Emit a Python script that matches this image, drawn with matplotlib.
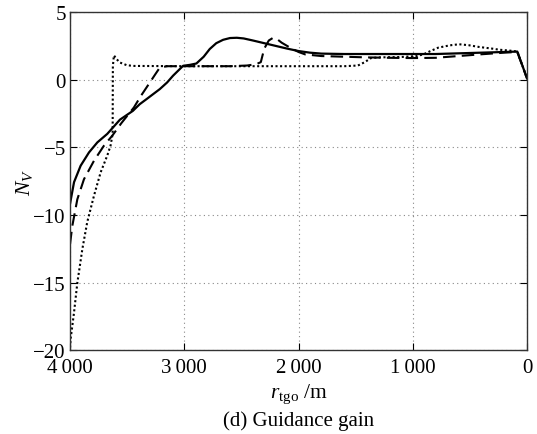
import matplotlib
matplotlib.use("Agg")
import matplotlib.pyplot as plt

plt.rcParams['font.family'] = ['Liberation Serif', 'DejaVu Serif']
plt.rcParams['mathtext.fontset'] = 'custom'
plt.rcParams['mathtext.rm'] = 'Liberation Serif'
plt.rcParams['mathtext.it'] = 'Liberation Serif:italic'
plt.rcParams['axes.unicode_minus'] = True

# ---- data ----
solid_x = [4000, 3965, 3907, 3834, 3761, 3674, 3563, 3450, 3389, 3330, 3214, 3150, 3098, 3010,
           2950, 2894, 2830, 2777, 2720, 2660, 2600, 2540, 2480, 2400, 2300, 2200, 2100, 2000,
           1900, 1800, 1600, 1400, 1200, 1000, 800, 600, 400, 200, 85, 0]
solid_y = [-9.17, -7.57, -6.35, -5.37, -4.63, -4.0, -2.95, -2.3, -1.8, -1.43, -0.69, -0.2, 0.3, 1.03,
           1.1, 1.2, 1.7, 2.27, 2.7, 2.95, 3.08, 3.1, 3.05, 2.9, 2.7, 2.5, 2.3, 2.12,
           2.0, 1.93, 1.9, 1.9, 1.9, 1.9, 1.9, 1.95, 2.0, 2.05, 2.08, 0.1]

dashed_x = [4000, 3980, 3936, 3878, 3790, 3703, 3630, 3550, 3441, 3380, 3301, 3250, 3214, 3150,
            3000, 2800, 2600, 2450, 2370, 2330, 2300, 2260, 2222, 2180, 2148, 2074, 2000, 1941,
            1800, 1600, 1400, 1200, 1000, 800, 742, 600, 400, 200, 85, 0]
dashed_y = [-12.15, -10.8, -8.83, -7.35, -5.98, -4.87, -4.13, -3.2, -2.05, -1.2, -0.2, 0.45, 0.9, 1.0,
            1.0, 1.0, 1.0, 1.05, 1.15, 1.3, 2.3, 2.9, 3.1, 2.95, 2.74, 2.37, 2.05, 1.87,
            1.75, 1.7, 1.65, 1.62, 1.6, 1.62, 1.66, 1.75, 1.88, 2.0, 2.05, 0.1]

dotted_x = [4000, 3994, 3965, 3936, 3892, 3849, 3790, 3732, 3674, 3645, 3627, 3625, 3616, 3590,
            3563, 3505, 3450, 3000, 2500, 2000, 1600, 1480, 1420, 1366, 1300, 1100, 960, 900,
            850, 777, 700, 658, 594, 510, 419, 306, 245, 150, 85, 0]
dotted_y = [-19.8, -19.1, -17.2, -15.0, -12.5, -10.5, -8.56, -6.84, -5.6, -4.86, -4.0, 1.0, 1.8, 1.5,
            1.27, 1.08, 1.02, 1.0, 1.0, 1.0, 1.0, 1.05, 1.3, 1.6, 1.65, 1.68, 1.75, 1.9,
            2.1, 2.37, 2.5, 2.56, 2.62, 2.55, 2.42, 2.3, 2.22, 2.15, 2.08, 0.1]

xticks = [4000, 3000, 2000, 1000, 0]
xtick_labels = ['4\u2009000', '3\u2009000', '2\u2009000', '1\u2009000', '0']
yticks = [5, 0, -5, -10, -15, -20]
ytick_labels = ['5', '0', '\u22125', '\u221210', '\u221215', '\u221220']

fig = plt.figure(figsize=(5.37, 4.35), dpi=100)
ax = fig.add_axes([0.1304, 0.192, 0.851, 0.778])

ax.plot(solid_x, solid_y, color='black', lw=1.6, linestyle='-')
ax.plot(dashed_x, dashed_y, color='black', lw=1.5, linestyle=(0, (6, 3)))
ax.plot(dotted_x, dotted_y, color='black', lw=1.5, linestyle=(0, (1, 1.2)))

ax.set_xlim(4000, 0)
ax.set_ylim(-20, 5)
ax.set_xticks(xticks)
ax.set_xticklabels(xtick_labels, fontsize=15)
ax.set_yticks(yticks)
ax.set_yticklabels(ytick_labels, fontsize=15)
ax.tick_params(direction='in', top=True, right=True, length=5, width=0.8)
ax.tick_params(axis='x', pad=5.5)
ax.tick_params(axis='y', pad=3)
ax.grid(True, linestyle=(0, (1, 3)), color='#888888', linewidth=0.8)
for s in ax.spines.values():
    s.set_linewidth(1.0)
    s.set_color('#333333')

ax.set_xlabel(r'$r_{\mathrm{tgo}}$ /m', fontsize=15.5, va='baseline')
ax.xaxis.set_label_coords(0.5, -0.1374)
ax.set_ylabel(r'$N_V$', fontsize=15.5, labelpad=-1)
fig.text(0.556, 0.0207, '(d) Guidance gain', ha='center', va='baseline', fontsize=15)

fig.savefig('out.png', dpi=100)
